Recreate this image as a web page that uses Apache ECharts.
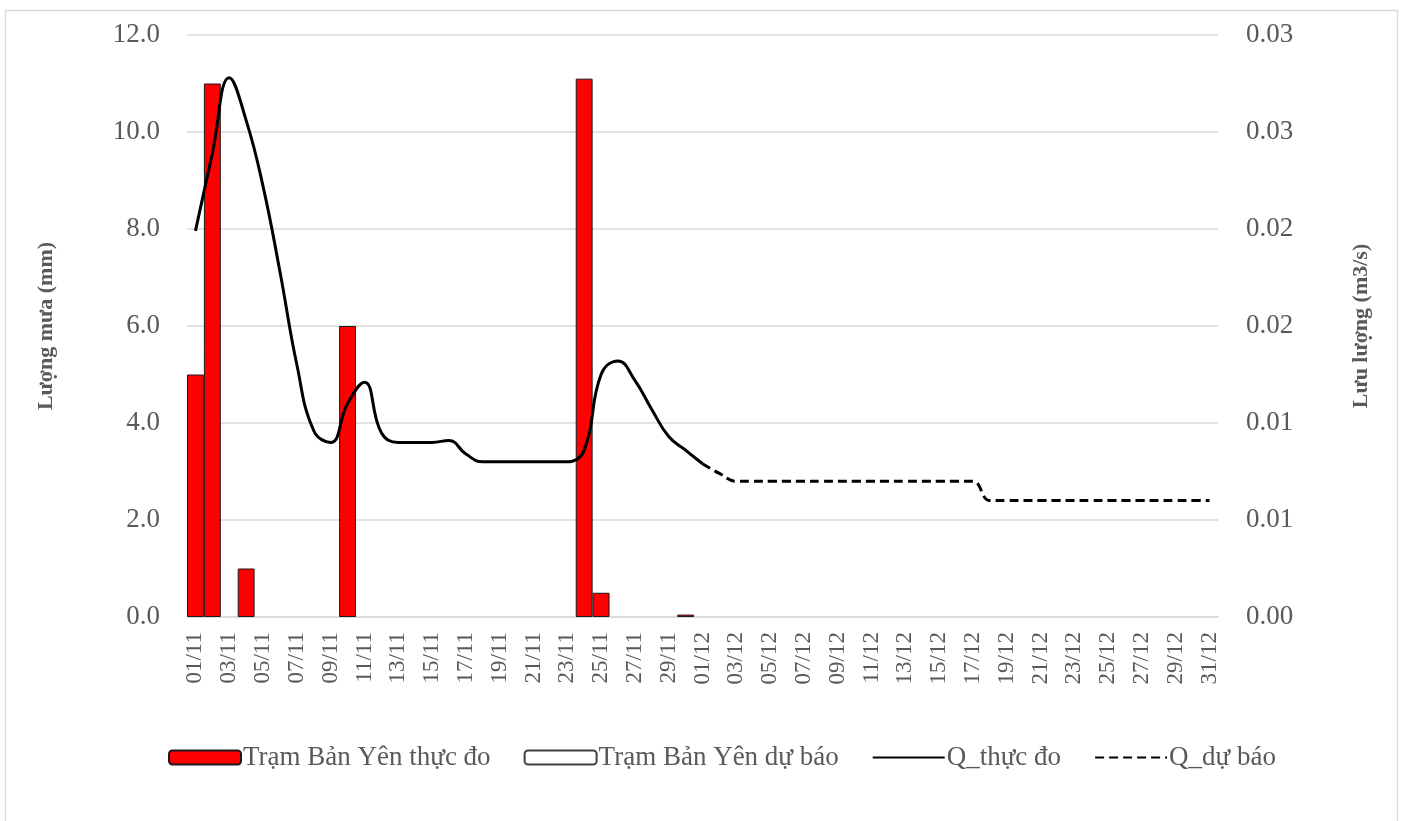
<!DOCTYPE html>
<html>
<head>
<meta charset="utf-8">
<script src="https://cdn.jsdelivr.net/npm/echarts@6/dist/echarts.min.js"></script>
<style>
html,body{margin:0;padding:0;background:#fff;}
#chart{width:1404px;height:821px;}
</style>
</head>
<body>
<div id="chart"></div>
<script>
const categories = [
  '01/11','02/11','03/11','04/11','05/11','06/11','07/11','08/11','09/11','10/11',
  '11/11','12/11','13/11','14/11','15/11','16/11','17/11','18/11','19/11','20/11',
  '21/11','22/11','23/11','24/11','25/11','26/11','27/11','28/11','29/11','30/11',
  '01/12','02/12','03/12','04/12','05/12','06/12','07/12','08/12','09/12','10/12',
  '11/12','12/12','13/12','14/12','15/12','16/12','17/12','18/12','19/12','20/12',
  '21/12','22/12','23/12','24/12','25/12','26/12','27/12','28/12','29/12','30/12',
  '31/12'
];
const seriesNames = ['Trạm Bản Yên thực đo','Trạm Bản Yên dự báo','Q_thực đo','Q_dự báo'];
// Rainfall observed (mm); '-' = no bar
const rainObserved = [
  5.0, 11.0, '-', 1.0, '-', '-', '-', '-', '-', 6.0,
  '-', '-', '-', '-', '-', '-', '-', '-', '-', '-',
  '-', '-', '-', 11.1, 0.5, '-', '-', '-', '-', 0.05,
  '-', '-', '-', '-', '-', '-', '-', '-', '-', '-',
  '-', '-', '-', '-', '-', '-', '-', '-', '-', '-',
  '-', '-', '-', '-', '-', '-', '-', '-', '-', '-',
  '-'
];
// Rainfall forecast (mm): nothing drawn
const rainForecast = [
  '-', '-', '-', '-', '-', '-', '-', '-', '-', '-',
  '-', '-', '-', '-', '-', '-', '-', '-', '-', '-',
  '-', '-', '-', '-', '-', '-', '-', '-', '-', '-',
  '-', '-', '-', '-', '-', '-', '-', '-', '-', '-',
  '-', '-', '-', '-', '-', '-', '-', '-', '-', '-',
  '-', '-', '-', '-', '-', '-', '-', '-', '-', '-',
  '-'
];
// Discharge observed (m3/s)
const qObserved = [
  0.0199, 0.0239, 0.0278, 0.0256, 0.0222, 0.0178, 0.0130, 0.0096, 0.0090, 0.0110,
  0.0121, 0.0095, 0.0090, 0.0090, 0.0090, 0.0091, 0.0084, 0.0080, 0.0080, 0.0080,
  0.0080, 0.0080, 0.0080, 0.0086, 0.0125, 0.0132, 0.0122, 0.0107, 0.0093, 0.0086,
  0.0079, '-', '-', '-', '-', '-', '-', '-', '-', '-',
  '-', '-', '-', '-', '-', '-', '-', '-', '-', '-',
  '-', '-', '-', '-', '-', '-', '-', '-', '-', '-',
  '-'
];
// Discharge forecast (m3/s)
const qForecast = [
  '-', '-', '-', '-', '-', '-', '-', '-', '-', '-',
  '-', '-', '-', '-', '-', '-', '-', '-', '-', '-',
  '-', '-', '-', '-', '-', '-', '-', '-', '-', '-',
  0.0079, 0.0074, 0.0070, 0.0070, 0.0070, 0.0070, 0.0070, 0.0070, 0.0070, 0.0070,
  0.0070, 0.0070, 0.0070, 0.0070, 0.0070, 0.0070, 0.0070, 0.0060, 0.0060, 0.0060,
  0.0060, 0.0060, 0.0060, 0.0060, 0.0060, 0.0060, 0.0060, 0.0060, 0.0060, 0.0060,
  0.0060
];
const leftTickLabels = ['0.0','2.0','4.0','6.0','8.0','10.0','12.0'];
const rightTickLabels = ['0.00','0.01','0.01','0.02','0.02','0.03','0.03'];

const FONT = '"Liberation Serif", "Times New Roman", serif';
const hiddenSymbol = { color: 'rgba(0,0,0,0)', borderWidth: 0 };
const chart = echarts.init(document.getElementById('chart'));
chart.setOption({
  backgroundColor: '#fff',
  animation: false,
  textStyle: { fontFamily: FONT },
  graphic: [{
    type: 'rect',
    shape: { x: 5.5, y: 10.5, width: 1392, height: 840 },
    style: { fill: 'none', stroke: '#d9d9d9', lineWidth: 1.5 },
    silent: true
  }],
  grid: { left: 187, right: 186, top: 35, bottom: 204, containLabel: false },
  legend: {
    left: 163,
    top: 739,
    itemWidth: 72,
    itemHeight: 14,
    itemGap: 33,
    textStyle: { fontFamily: FONT, fontSize: 27, color: '#595959', padding: [0,0,0,-3] },
    data: [
      { name: seriesNames[0] },
      { name: seriesNames[1] },
      { name: seriesNames[2], itemStyle: hiddenSymbol },
      { name: seriesNames[3], itemStyle: hiddenSymbol }
    ]
  },
  xAxis: {
    type: 'category',
    data: categories,
    boundaryGap: true,
    axisLine: { show: true, lineStyle: { color: '#d9d9d9', width: 1.5 } },
    axisTick: { show: false },
    axisLabel: {
      rotate: 90,
      interval: 1,
      margin: 15,
      fontFamily: FONT,
      fontSize: 23,
      color: '#595959'
    }
  },
  yAxis: [{
    type: 'value',
    min: 0, max: 12, interval: 2,
    name: 'Lượng mưa (mm)',
    nameLocation: 'middle',
    nameGap: 130,
    nameTextStyle: { fontFamily: FONT, fontSize: 22, fontWeight: 'bold', color: '#595959' },
    axisLine: { show: false },
    axisTick: { show: false },
    splitLine: { lineStyle: { color: '#d9d9d9', width: 1.5 } },
    axisLabel: {
      margin: 27,
      fontFamily: FONT, fontSize: 27, color: '#595959',
      formatter: v => leftTickLabels[Math.round(v / 2)]
    }
  }, {
    type: 'value',
    min: 0, max: 0.03, interval: 0.005,
    name: 'Lưu lượng (m3/s)',
    nameLocation: 'middle',
    nameGap: 132,
    nameRotate: 90,
    nameTextStyle: { fontFamily: FONT, fontSize: 22, fontWeight: 'bold', color: '#595959' },
    axisLine: { show: false },
    axisTick: { show: false },
    splitLine: { show: false },
    axisLabel: {
      margin: 28,
      fontFamily: FONT, fontSize: 27, color: '#595959',
      formatter: v => rightTickLabels[Math.round(v / 0.005)]
    }
  }],
  series: [{
    name: seriesNames[0],
    type: 'bar',
    yAxisIndex: 0,
    data: rainObserved,
    barCategoryGap: '0%',
    barGap: '-100%',
    itemStyle: { color: '#ff0000', borderColor: '#1a1a1a', borderWidth: 1 }
  }, {
    name: seriesNames[1],
    type: 'bar',
    yAxisIndex: 0,
    data: rainForecast,
    barCategoryGap: '0%',
    barGap: '-100%',
    itemStyle: { color: '#ffffff', borderColor: '#404040', borderWidth: 1.5 }
  }, {
    name: seriesNames[2],
    type: 'line',
    yAxisIndex: 1,
    data: qObserved,
    smooth: 0.45,
    symbol: 'none',
    lineStyle: { color: '#000', width: 3 },
    itemStyle: { color: '#000' }
  }, {
    name: seriesNames[3],
    type: 'line',
    yAxisIndex: 1,
    data: qForecast,
    smooth: 0.45,
    symbol: 'none',
    lineStyle: { color: '#000', width: 3, type: [9, 5] },
    itemStyle: { color: '#000' }
  }]
});
</script>
</body>
</html>
